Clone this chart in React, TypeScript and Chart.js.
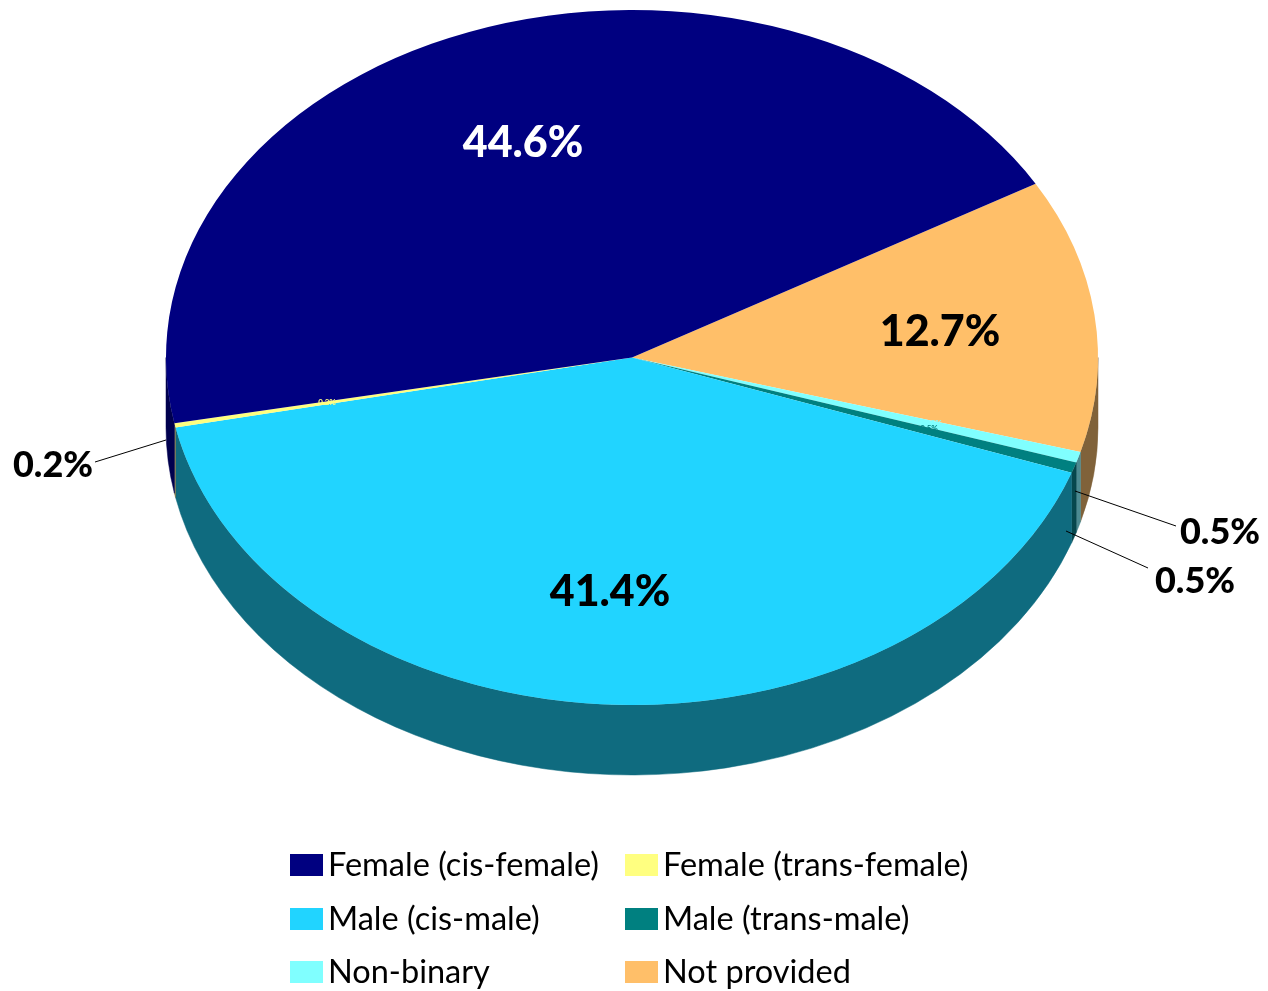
import React, { useEffect, useRef } from "react";
import { Chart, registerables } from "chart.js";

Chart.register(...registerables);

const categories = [
  "Female (cis-female)",
  "Female (trans-female)",
  "Male (cis-male)",
  "Male (trans-male)",
  "Non-binary",
  "Not provided",
];
const shares = [44.65, 0.2, 41.35, 0.5, 0.5, 12.7];
const shareLabels = ["44.6%", "0.2%", "41.4%", "0.5%", "0.5%", "12.7%"];
const topColors = ["#000080", "#FFFF80", "#21D4FF", "#008080", "#80FFFF", "#FFBF69"];
const wallColors = ["#00004E", "#7F7446", "#0F6B7F", "#07474D", "#4C8A91", "#80623A"];

const FONT = "Lato, Carlito, sans-serif";
const SQUASH = 347.5 / 466;
const CENTER_X = 632;
const CENTER_Y = 357.5;
const DEPTH = 70;

const piePlugin = {
  id: "tiltedPie",
  beforeDatasetsDraw(chart: any) {
    const ctx = chart.ctx;
    const arcs = chart.getDatasetMeta(0).data;
    const TAU = Math.PI * 2;
    arcs.forEach((arc: any, i: number) => {
      const p = arc.getProps(["startAngle", "endAngle", "outerRadius"], true);
      const rx = p.outerRadius;
      const ry = rx * SQUASH;
      // visible part of the rim: angles in [0, PI], tested on both wraps
      for (const shift of [-TAU, 0, TAU]) {
        const a = Math.max(p.startAngle + shift, 0);
        const b = Math.min(p.endAngle + shift, Math.PI);
        if (b <= a) continue;
        ctx.beginPath();
        ctx.ellipse(CENTER_X, CENTER_Y, rx, ry, 0, a, b, false);
        ctx.ellipse(CENTER_X, CENTER_Y + DEPTH, rx, ry, 0, b, a, true);
        ctx.closePath();
        const colour = wallColors[categories.length - 1 - i];
        ctx.fillStyle = colour;
        ctx.fill();
        ctx.strokeStyle = colour;
        ctx.lineWidth = 0.5;
        ctx.stroke();
      }
    });
    const first = arcs[0];
    ctx.save();
    ctx.translate(CENTER_X, CENTER_Y);
    ctx.scale(1, SQUASH);
    ctx.translate(-first.x, -first.y);
  },
  afterDatasetsDraw(chart: any) {
    const ctx = chart.ctx;
    ctx.restore();

    const text = (s: string, x: number, y: number, font: string, colour: string, align: CanvasTextAlign = "center") => {
      ctx.font = font;
      ctx.fillStyle = colour;
      ctx.textAlign = align;
      ctx.textBaseline = "alphabetic";
      ctx.fillText(s, x, y);
    };

    // leader lines
    ctx.strokeStyle = "#000000";
    ctx.lineWidth = 1;
    for (const [x1, y1, x2, y2] of [
      [95, 462, 166, 440],
      [1176, 526, 1075, 491],
      [1148, 568, 1066, 531],
    ]) {
      ctx.beginPath();
      ctx.moveTo(x1, y1);
      ctx.lineTo(x2, y2);
      ctx.stroke();
    }

    // data labels
    const big = `900 43px ${FONT}`;
    const mid = `900 36px ${FONT}`;
    text(shareLabels[0], 523, 157, big, "#FFFFFF");
    text(shareLabels[2], 610, 606, big, "#000000");
    text(shareLabels[5], 940, 346, big, "#000000");
    text(shareLabels[1], 53, 477, mid, "#000000");
    text(shareLabels[4], 1220, 544, mid, "#000000");
    text(shareLabels[3], 1195, 593, mid, "#000000");
    const tiny = `bold 8px ${FONT}`;
    text(shareLabels[1], 327, 405, tiny, "#FFFF80");
    text(shareLabels[4], 933, 426, tiny, "#80FFFF");
    text(shareLabels[3], 929, 431, tiny, "#008080");

    // legend
    categories.forEach((name, i) => {
      const col = i % 2;
      const row = Math.floor(i / 2);
      const x = col === 0 ? 290 : 625;
      const y = [854, 908, 961][row];
      ctx.fillStyle = topColors[i];
      ctx.fillRect(x, y, 33, 22);
      text(name, x + 38, y + 22, `32.5px ${FONT}`, "#000000", "left");
    });
  },
};

export default function App() {
  const ref = useRef<HTMLCanvasElement | null>(null);
  useEffect(() => {
    document.body.style.margin = "0";
    document.body.style.background = "#FFFFFF";
    const order = categories.map((_, i) => categories.length - 1 - i);
    const chart = new Chart(ref.current as HTMLCanvasElement, {
      type: "pie",
      data: {
        labels: order.map((i) => categories[i]),
        datasets: [
          {
            data: order.map((i) => shares[i]),
            backgroundColor: order.map((i) => topColors[i]),
            borderWidth: 0,
          },
        ],
      },
      options: {
        responsive: false,
        animation: false,
        rotation: 60,
        layout: { padding: { left: 166, right: 170, top: 0, bottom: 0 } },
        plugins: { legend: { display: false }, tooltip: { enabled: false }, title: { display: false } },
      },
      plugins: [piePlugin],
    } as any);
    return () => chart.destroy();
  }, []);
  return <canvas ref={ref} width={1268} height={991} style={{ display: "block" }} />;
}
